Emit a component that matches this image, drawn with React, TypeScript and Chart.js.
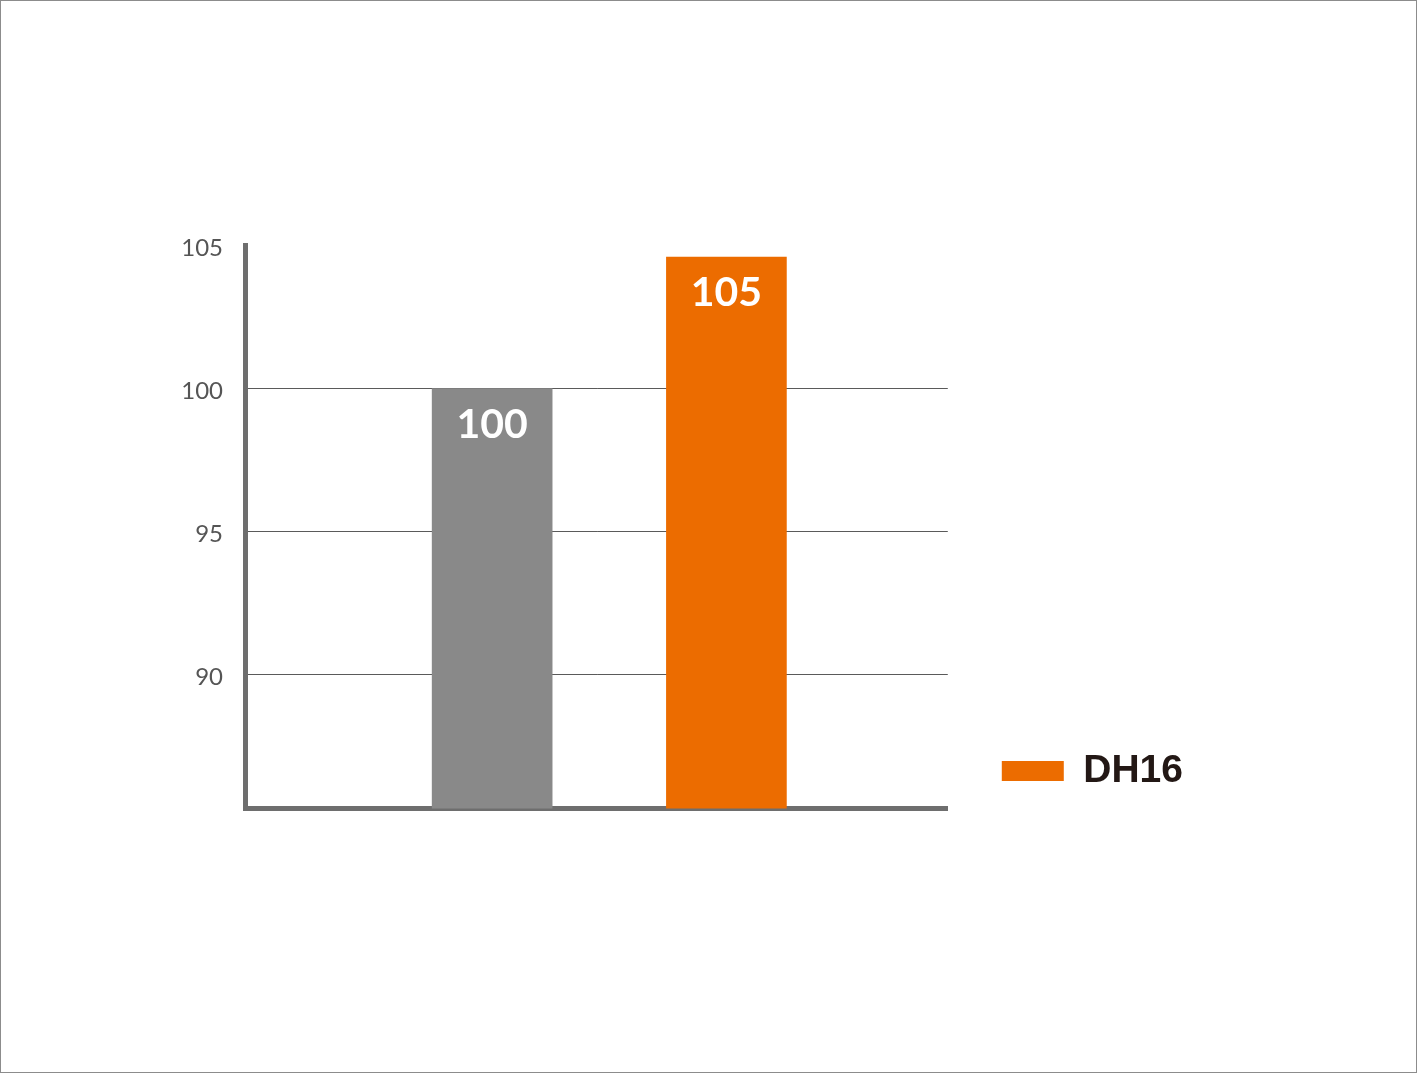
import { useEffect, useRef } from 'react';
import { Chart, registerables } from 'chart.js';

Chart.register(...registerables);

// Values
const seriesNames = ['Reference', 'DH16'];
const showInLegend = [false, true];
const categoryIndex = [1, 2];
const values = [100, 104.6];
const valueLabels = ['100', '105'];
const barColors = ['#898989', '#ec6c00'];
const yTicks = [90, 95, 100, 105];
const yMin = 85.3;
const yMax = 105;

// White value labels drawn inside the top of each bar
const valueLabelPlugin = {
  id: 'valueLabels',
  afterDatasetsDraw(chart: Chart) {
    const { ctx } = chart;
    ctx.save();
    ctx.fillStyle = '#ffffff';
    ctx.font = 'bold 41px Lato';
    ctx.textAlign = 'center';
    ctx.textBaseline = 'middle';
    chart.data.datasets.forEach((_, i) => {
      const meta = chart.getDatasetMeta(i);
      meta.data.forEach((bar: any) => {
        ctx.fillText(valueLabels[i], bar.x, bar.y + 36);
      });
    });
    ctx.restore();
  },
};

const App: React.FC = () => {
  const canvasRef = useRef<HTMLCanvasElement>(null);

  useEffect(() => {
    document.body.style.margin = '0';
    if (!canvasRef.current) return;
    const ctx = canvasRef.current.getContext('2d');
    if (!ctx) return;

    const chart = new Chart(ctx, {
      type: 'bar',
      data: {
        datasets: seriesNames.map((name, i) => ({
          label: name,
          data: [{ x: categoryIndex[i], y: values[i] }],
          backgroundColor: barColors[i],
          borderWidth: 0,
          barThickness: 120,
          grouped: false,
        })),
      },
      options: {
        responsive: true,
        maintainAspectRatio: false,
        animation: false,
        layout: {
          padding: { left: 155, right: 224, top: 245.7, bottom: 228.5 },
        },
        plugins: {
          tooltip: { enabled: false },
          legend: {
            position: 'right',
            align: 'end',
            labels: {
              boxWidth: 62,
              boxHeight: 20,
              padding: 54,
              color: '#231815',
              font: { family: 'Liberation Sans', size: 39, weight: 'bold', lineHeight: 1 },
              filter: (item: any) => showInLegend[item.datasetIndex],
            },
          },
        },
        scales: {
          x: {
            type: 'linear',
            min: -0.055,
            max: 2.945,
            offset: false,
            z: 1,
            grid: { display: false },
            ticks: { display: false },
            border: { display: true, width: 5, color: '#6e6e6e' },
            afterFit: (scale: any) => {
              scale.height = 36;
            },
          },
          y: {
            min: yMin,
            max: yMax,
            afterBuildTicks: (scale: any) => {
              scale.ticks = yTicks.map((v) => ({ value: v }));
            },
            grid: {
              drawTicks: false,
              lineWidth: 1,
              color: (c: any) => (c.tick && c.tick.value === yMax ? 'rgba(0,0,0,0)' : '#5a5a5a'),
            },
            border: { width: 5, color: '#6e6e6e' },
            ticks: {
              padding: 22,
              labelOffset: 3,
              color: '#555555',
              font: { family: 'Lato', size: 24, weight: 400 },
            },
            afterFit: (scale: any) => {
              scale.width = 90;
            },
          },
        },
      },
      plugins: [valueLabelPlugin],
    });

    return () => {
      chart.destroy();
    };
  }, []);

  return (
    <div
      style={{
        position: 'relative',
        width: '1417px',
        height: '1073px',
        background: '#ffffff',
        boxShadow: 'inset 0 0 0 1px #8c8c8c',
      }}
    >
      <canvas ref={canvasRef}></canvas>
    </div>
  );
};

export default App;
